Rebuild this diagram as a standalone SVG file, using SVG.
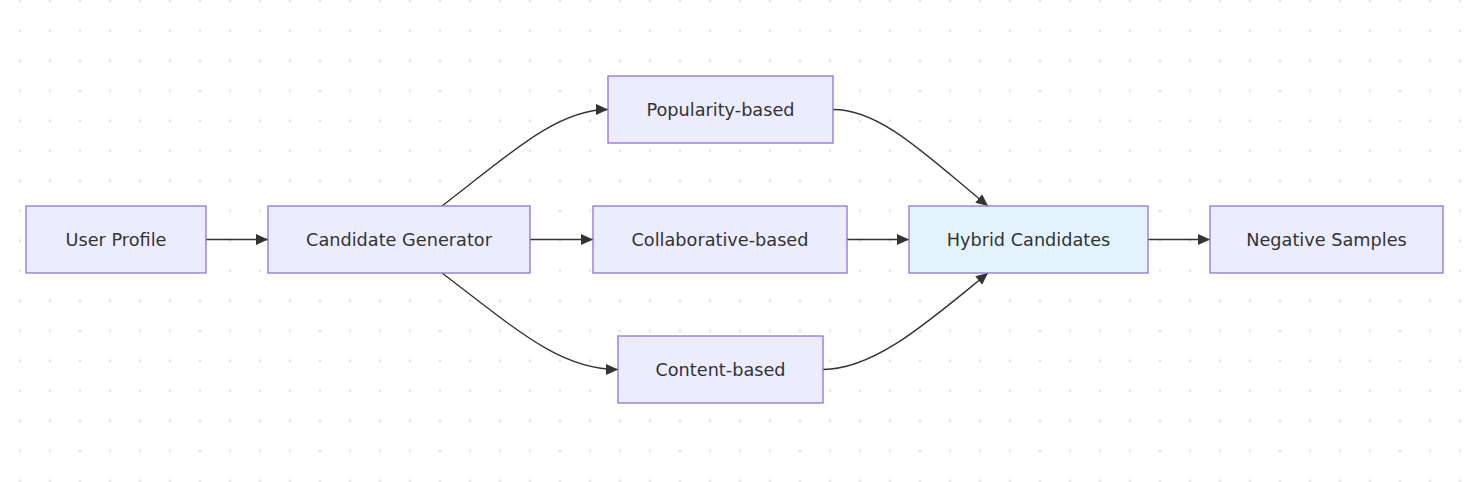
<svg xmlns="http://www.w3.org/2000/svg" width="1468" height="482" viewBox="0 0 1468 482">
<style>
.node rect{fill:#ECECFF;stroke:#9370DB;stroke-width:1.3}
.node.hl rect{fill:#E3F3FD}
.node text{font-family:"DejaVu Sans",Verdana,sans-serif;font-size:17.7px;fill:#333;text-anchor:middle}
.edge{fill:none;stroke:#333;stroke-width:1.4;marker-end:url(#arr)}
</style>
<defs>
<pattern id="dots" x="5" y="-14.3" width="30" height="30" patternUnits="userSpaceOnUse">
<circle cx="15" cy="15" r="1.5" fill="#e6e6e6"/>
</pattern>
<marker id="arr" markerUnits="userSpaceOnUse" markerWidth="12" markerHeight="12" refX="11" refY="5" orient="auto" viewBox="0 0 11 10">
<path d="M0,0 L11,5 L0,10 z" fill="#333"/>
</marker>
</defs>
<rect width="1468" height="482" fill="#fff"/>
<rect width="1468" height="482" fill="url(#dots)"/>
<g id="edges">
<path class="edge" d="M206,239.5 L268,239.5"/>
<path class="edge" d="M530,239.5 L593,239.5"/>
<path class="edge" d="M847,239.5 L909,239.5"/>
<path class="edge" d="M1148,239.5 L1210,239.5"/>
<path class="edge" d="M442,206 C505,158 555,109.5 608,109.5"/>
<path class="edge" d="M442,273 C517,330 560,369.5 618,369.5"/>
<path class="edge" d="M833,109.5 C882,109.5 929,158 988,206"/>
<path class="edge" d="M823,369.5 C875,369.5 929,321 988,273"/>
</g>
<g id="user-profile" class="node"><rect x="26" y="206" width="180" height="67"/><text x="116" y="245.7">User Profile</text></g>
<g id="candidate-generator" class="node"><rect x="268" y="206" width="262" height="67"/><text x="399" y="245.7">Candidate Generator</text></g>
<g id="popularity-based" class="node"><rect x="608" y="76" width="225" height="67"/><text x="720.5" y="115.7">Popularity-based</text></g>
<g id="collaborative-based" class="node"><rect x="593" y="206" width="254" height="67"/><text x="720" y="245.7">Collaborative-based</text></g>
<g id="content-based" class="node"><rect x="618" y="336" width="205" height="67"/><text x="720.5" y="375.7">Content-based</text></g>
<g id="hybrid-candidates" class="node hl"><rect x="909" y="206" width="239" height="67"/><text x="1028.5" y="245.7">Hybrid Candidates</text></g>
<g id="negative-samples" class="node"><rect x="1210" y="206" width="233" height="67"/><text x="1326.5" y="245.7">Negative Samples</text></g>
</svg>
